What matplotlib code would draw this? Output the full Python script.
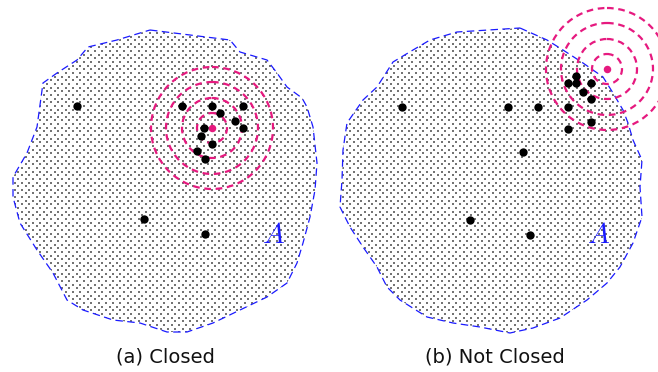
import numpy as np
import matplotlib

matplotlib.use("Agg")
import matplotlib.pyplot as plt
from matplotlib.patches import Polygon, Circle

plt.rcParams["mathtext.fontset"] = "cm"

# region outlines (pixel coordinates, y downwards)
LEFT_OUTLINE_X = [150, 230, 240, 267, 277, 287, 302, 307, 313, 317, 315, 310, 303, 297, 287, 267,
                  240, 213, 187, 167, 140, 113, 83, 67, 53, 37, 20, 13, 13, 27, 37, 43, 57, 77, 88, 117]
LEFT_OUTLINE_Y = [30, 40, 52, 60, 73, 87, 98, 107, 127, 163, 190, 217, 243, 263, 283, 297,
                  310, 323, 332, 332, 323, 320, 310, 300, 273, 250, 223, 197, 177, 153, 127, 83, 73, 60, 47, 40]

RIGHT_OUTLINE_X = [520, 547, 563, 583, 603, 613, 623, 628, 633, 642, 640, 642, 633, 620, 607, 587,
                   560, 533, 510, 480, 453, 427, 400, 387, 377, 363, 350, 340, 342, 343, 347, 363,
                   377, 393, 413, 430, 457]
RIGHT_OUTLINE_Y = [28, 40, 50, 63, 77, 93, 110, 123, 140, 160, 187, 217, 243, 267, 283, 300,
                   318, 328, 333, 327, 323, 317, 300, 287, 267, 247, 227, 207, 180, 150, 123, 100,
                   87, 62, 50, 40, 32]

# sample points
LEFT_PTS_X = [77, 182, 212, 243, 220, 235, 243, 204, 201, 212, 197, 205, 144, 205]
LEFT_PTS_Y = [106, 106, 106, 106, 113, 121, 128, 128, 136, 144, 151, 159, 219, 234]
LEFT_CENTER = (212, 128)

RIGHT_PTS_X = [402, 508, 538, 568, 568, 576, 576, 591, 583, 591, 591, 568, 523, 470, 530]
RIGHT_PTS_Y = [107, 107, 107, 107, 83, 83, 76, 83, 92, 99, 122, 129, 152, 220, 235]
RIGHT_CENTER = (607, 69)

RADII = [15, 30, 46, 61]

LEFT_A = (274, 235)
RIGHT_A = (599, 235)
CAPTIONS = ["(a) Closed", "(b) Not Closed"]
CAPTION_X = [165, 495]

PINK = "#e6197f"


def draw_region(ax, xs, ys):
    poly = Polygon(np.column_stack([xs, ys]), closed=True, facecolor="white",
                   edgecolor="none", zorder=1)
    ax.add_patch(poly)
    # checkerboard dot texture clipped to the region
    d = 3.65
    gx, gy = np.meshgrid(np.arange(0, 660, d), np.arange(0, 372, d))
    i, j = np.meshgrid(np.arange(gx.shape[1]), np.arange(gx.shape[0]))
    mask = (i + j) % 2 == 0
    dots = ax.scatter(gx[mask], gy[mask], s=3.4, marker="s", color="#747474",
                      linewidths=0, zorder=2)
    dots.set_clip_path(poly)
    ax.add_patch(Polygon(np.column_stack([xs, ys]), closed=True, facecolor="none",
                         edgecolor="#1a1aff", linewidth=0.9, linestyle=(0, (6, 3.5)), zorder=3))


def draw_rings(ax, center):
    for r in RADII:
        ax.add_patch(Circle(center, r, facecolor="none", edgecolor=PINK,
                            linewidth=1.6, linestyle=(0, (3.0, 2.1)), zorder=4))
    ax.plot(*center, "o", color=PINK, markersize=5.4, markeredgewidth=0, zorder=6)


fig = plt.figure(figsize=(6.58, 3.72), dpi=100)
ax = fig.add_axes([0, 0, 1, 1])
ax.set_xlim(0, 658)
ax.set_ylim(372, 0)
ax.axis("off")

draw_region(ax, LEFT_OUTLINE_X, LEFT_OUTLINE_Y)
draw_region(ax, RIGHT_OUTLINE_X, RIGHT_OUTLINE_Y)

draw_rings(ax, LEFT_CENTER)
draw_rings(ax, RIGHT_CENTER)

ax.plot(LEFT_PTS_X, LEFT_PTS_Y, "o", color="black", markersize=6.0, markeredgewidth=0, zorder=5)
ax.plot(RIGHT_PTS_X, RIGHT_PTS_Y, "o", color="black", markersize=6.0, markeredgewidth=0, zorder=5)

for pos in (LEFT_A, RIGHT_A):
    ax.text(pos[0], pos[1], r"$A$", color="#1a1aff", fontsize=21, ha="center", va="center", zorder=7)

for label, x in zip(CAPTIONS, CAPTION_X):
    ax.text(x, 357, label, fontsize=14, ha="center", va="center", color="#111111")

fig.savefig("out.png", dpi=100)
